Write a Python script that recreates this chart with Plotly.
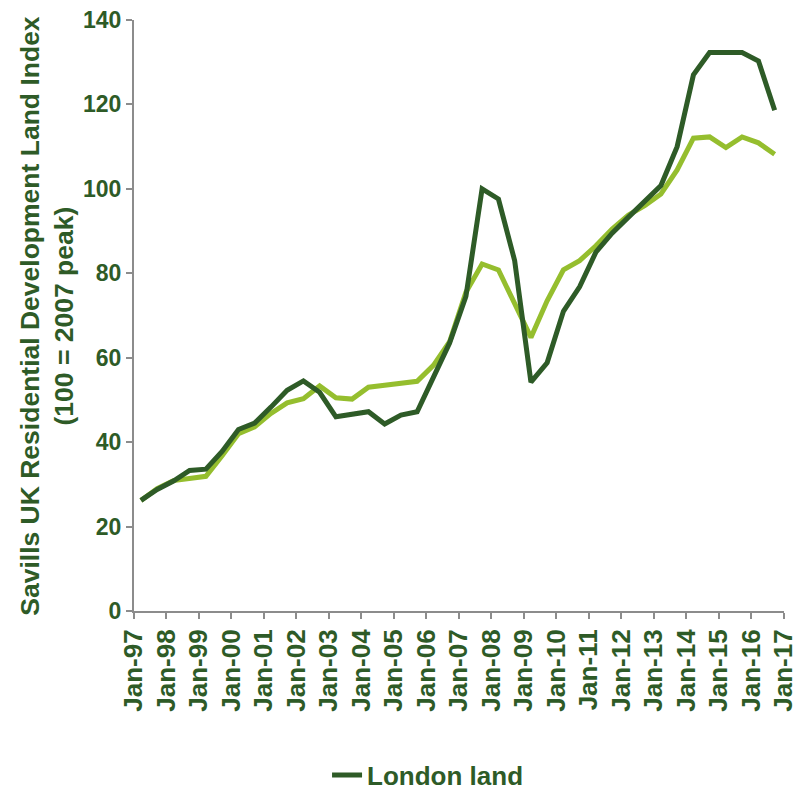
import plotly.graph_objects as go

years = list(range(1997, 2017))
dates = []
for y in years:
    dates.append(f"{y}-03-20")
    dates.append(f"{y}-09-18")

london_land = [26.2, 28.8, 30.8, 33.3, 33.6, 37.8, 43.0, 44.5, 48.3, 52.3,
               54.5, 51.8, 46.0, 46.5, 47.2, 44.3, 46.4, 47.2, 55.2, 63.5,
               74.5, 100.0, 97.6, 83.0, 54.2, 58.8, 71.0, 76.8, 85.0, 89.5,
               93.3, 97.2, 100.8, 110.0, 127.0, 132.3, 132.3, 132.3, 130.3, 118.6]

uk_land = [26.2, 29.0, 30.9, 31.5, 31.9, 36.8, 42.0, 43.6, 46.8, 49.3,
           50.3, 53.3, 50.5, 50.2, 53.0, 53.5, 54.0, 54.4, 58.2, 63.8,
           75.5, 82.2, 80.8, 73.0, 64.8, 73.5, 80.8, 83.0, 86.5, 90.5,
           93.8, 96.0, 98.8, 104.5, 112.0, 112.3, 109.8, 112.3, 110.9, 108.2]

tick_dates = [f"{y}-01-01" for y in range(1997, 2018)]
tick_labels = [f"Jan-{str(y)[2:]}" for y in range(1997, 2018)]
y_ticks = [0, 20, 40, 60, 80, 100, 120, 140]

DARK = "#2E5B27"
LIGHT = "#95BE2E"
AXIS = "#8C8C8C"
FONT = "Liberation Sans, Arial, sans-serif"

fig = go.Figure()
fig.add_trace(go.Scatter(x=dates, y=uk_land, mode="lines", name="UK land",
                         line=dict(color=LIGHT, width=5), showlegend=False))
fig.add_trace(go.Scatter(x=dates, y=london_land, mode="lines", name="<b>London land</b>",
                         line=dict(color=DARK, width=5)))

fig.update_layout(
    width=796, height=784,
    margin=dict(l=126, r=20, t=12, b=181, autoexpand=False),
    paper_bgcolor="white", plot_bgcolor="white",
    font=dict(family=FONT, color=DARK, size=24),
    showlegend=True,
    legend=dict(orientation="h", x=0.297, xanchor="left", y=-0.2775, yanchor="middle",
                font=dict(size=26, color=DARK, family=FONT)),
    xaxis=dict(type="date", range=["1997-01-01", "2017-01-01"], automargin=False,
               tickvals=tick_dates, ticktext=[f"<b>{t}</b>" for t in tick_labels],
               tickangle=-90, showgrid=False, zeroline=False,
               showline=True, linecolor=AXIS, linewidth=2,
               ticks="outside", ticklen=6, tickcolor=AXIS, tickwidth=1.5,
               ticklabeloverflow="allow",
               tickfont=dict(size=26, color=DARK, family=FONT)),
    yaxis=dict(range=[0, 140], tickvals=y_ticks, automargin=False,
               ticktext=[f"<b>{v}</b>" for v in y_ticks],
               showgrid=False, zeroline=False,
               showline=True, linecolor=AXIS, linewidth=2,
               ticks="outside", ticklen=6, tickcolor=AXIS, tickwidth=1.5,
               ticklabeloverflow="allow",
               tickfont=dict(size=23, color=DARK, family=FONT)),
)

fig.add_annotation(text="<b>Savills UK Residential Development Land Index<br>(100 = 2007 peak)</b>",
                   xref="paper", yref="paper", x=-0.135, y=0.5,
                   xanchor="center", yanchor="middle", textangle=-90, showarrow=False,
                   font=dict(size=26.5, color=DARK, family=FONT))

fig.write_html("out.html")
